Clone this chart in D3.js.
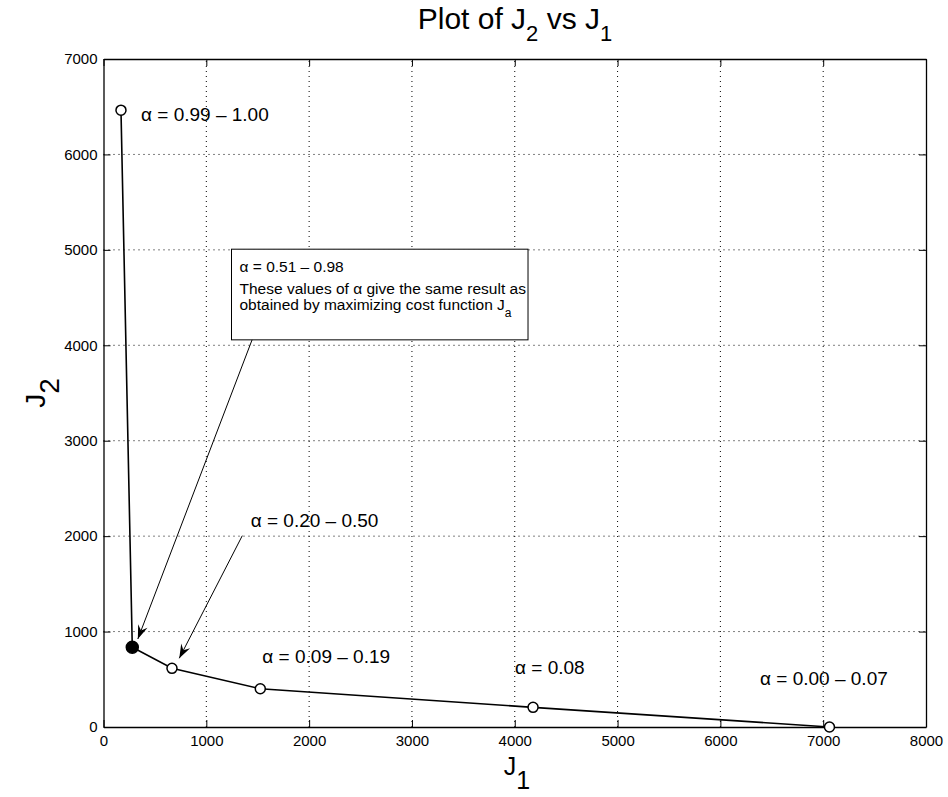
<!DOCTYPE html>
<meta charset="utf-8">
<body>
	<svg id="chart"></svg>
</body>
<script src="https://d3js.org/d3.v7.min.js"></script>
<script>

	// points of the trade-off curve, J1 along x and J2 along y
	var j1Values = [170, 280, 666, 1525, 4178, 7061];
	var j2Values = [6464, 835, 615, 401, 206, 0];
	// the one solid marker is the point chosen by maximizing J_a
	var filledMarker = [false, true, false, false, false, false];

	var xTicks = [0, 1000, 2000, 3000, 4000, 5000, 6000, 7000, 8000];
	var yTicks = [0, 1000, 2000, 3000, 4000, 5000, 6000, 7000];

	// alpha range labels, anchored in data units (left end of the baseline)
	var labelText = ["\u03b1 = 0.99 \u2013 1.00", "\u03b1 = 0.20 \u2013 0.50", "\u03b1 = 0.09 \u2013 0.19", "\u03b1 = 0.08", "\u03b1 = 0.00 \u2013 0.07"];
	var labelJ1 = [365, 1432, 1545, 4003, 6386];
	var labelJ2 = [6352, 2100, 674, 556, 440];

	// the text box and its arrows
	var boxLines = ["\u03b1 = 0.51 \u2013 0.98", "These values of \u03b1 give the same result as", "obtained by maximizing cost function J"];
	var boxCorners = [[1245, 5007], [4129, 4057]];
	var arrowTails = [[1445, 4057], [1350, 2005]];
	var arrowTips = [[334, 922], [737, 720]];

	var width = 948,
		height = 797;

	var svg = d3.select("#chart")
		.attr("width", width)
		.attr("height", height);

	var x = d3.scaleLinear().domain([0, 8000]).range([103.5, 926]);
	var y = d3.scaleLinear().domain([0, 7000]).range([727, 59]);

	// dotted grid
	var grid = svg.append("g").attr("class", "grid");
	grid.selectAll("line.gx")
		.data(xTicks.slice(1, -1))
		.enter().append("line")
		.attr("class", "gx")
		.attr("x1", (d) => x(d)).attr("x2", (d) => x(d))
		.attr("y1", y(0)).attr("y2", y(7000));
	grid.selectAll("line.gy")
		.data(yTicks.slice(1, -1))
		.enter().append("line")
		.attr("class", "gy")
		.attr("y1", (d) => y(d)).attr("y2", (d) => y(d))
		.attr("x1", x(0)).attr("x2", x(8000));

	// axes: ticks pointing inward, box on all four sides
	svg.append("g")
		.attr("class", "axis")
		.attr("transform", "translate(0," + y(0) + ")")
		.call(d3.axisBottom(x).tickValues(xTicks).tickSizeInner(-7).tickSizeOuter(0).tickPadding(8).tickFormat(d3.format("d")));
	svg.append("g")
		.attr("class", "axis")
		.attr("transform", "translate(0," + y(7000) + ")")
		.call(d3.axisTop(x).tickValues(xTicks).tickSizeInner(-7).tickSizeOuter(0).tickFormat(""));
	svg.append("g")
		.attr("class", "axis")
		.attr("transform", "translate(" + x(0) + ",0)")
		.call(d3.axisLeft(y).tickValues(yTicks).tickSizeInner(-7).tickSizeOuter(0).tickPadding(6).tickFormat(d3.format("d")));
	svg.append("g")
		.attr("class", "axis")
		.attr("transform", "translate(" + x(8000) + ",0)")
		.call(d3.axisRight(y).tickValues(yTicks).tickSizeInner(-7).tickSizeOuter(0).tickFormat(""));

	// curve
	var points = j1Values.map((d, i) => ({j1: d, j2: j2Values[i], filled: filledMarker[i]}));
	svg.append("path")
		.datum(points)
		.attr("class", "curve")
		.attr("d", d3.line().x((d) => x(d.j1)).y((d) => y(d.j2)));

	svg.selectAll("circle.marker")
		.data(points)
		.enter().append("circle")
		.attr("class", "marker")
		.attr("cx", (d) => x(d.j1))
		.attr("cy", (d) => y(d.j2))
		.attr("r", (d) => d.filled ? 6 : 5)
		.attr("fill", (d) => d.filled ? "#000" : "#fff");

	// alpha labels
	svg.selectAll("text.alpha")
		.data(labelText)
		.enter().append("text")
		.attr("class", "alpha")
		.attr("x", (d, i) => x(labelJ1[i]))
		.attr("y", (d, i) => y(labelJ2[i]))
		.text((d) => d);

	// text box
	var bx0 = x(boxCorners[0][0]), by0 = y(boxCorners[0][1]),
		bx1 = x(boxCorners[1][0]), by1 = y(boxCorners[1][1]);
	svg.append("rect")
		.attr("class", "box")
		.attr("x", bx0).attr("y", by0)
		.attr("width", bx1 - bx0).attr("height", by1 - by0);
	var boxBaselines = [23, 45, 61];
	var boxText = svg.selectAll("text.boxline")
		.data(boxLines)
		.enter().append("text")
		.attr("class", "boxline")
		.attr("x", bx0 + 8)
		.attr("y", (d, i) => by0 + boxBaselines[i])
		.text((d) => d);
	// subscript a on the last line
	boxText.filter((d, i) => i == 2)
		.append("tspan")
		.attr("dy", 7)
		.style("font-size", "12px")
		.text("a");

	// arrows, concave back heads like the matlab annotation
	function arrowHead(tip, tail) {
		var ang = Math.atan2(tip[1] - tail[1], tip[0] - tail[0]);
		var len = 14, half = 5, back = 9;
		var pts = [[0, 0], [-len, -half], [-back, 0], [-len, half]];
		return "M" + pts.map(function(p) {
			return [tip[0] + p[0] * Math.cos(ang) - p[1] * Math.sin(ang),
				tip[1] + p[0] * Math.sin(ang) + p[1] * Math.cos(ang)].join(",");
		}).join("L") + "Z";
	}
	arrowTails.forEach(function(t, i) {
		var tail = [x(t[0]), y(t[1])],
			tip = [x(arrowTips[i][0]), y(arrowTips[i][1])];
		svg.append("line")
			.attr("class", "arrow")
			.attr("x1", tail[0]).attr("y1", tail[1])
			.attr("x2", tip[0]).attr("y2", tip[1]);
		svg.append("path")
			.attr("class", "arrowhead")
			.attr("d", arrowHead(tip, tail));
	});

	// title and axis labels
	var title = svg.append("text")
		.attr("class", "title")
		.attr("x", 515)
		.attr("y", 29)
		.attr("text-anchor", "middle");
	title.append("tspan").text("Plot of J");
	title.append("tspan").attr("dy", 12).style("font-size", "22px").text("2");
	title.append("tspan").attr("dy", -12).text(" vs J");
	title.append("tspan").attr("dy", 12).style("font-size", "22px").text("1");

	var xLabel = svg.append("text")
		.attr("class", "label")
		.attr("x", 517)
		.attr("y", 775)
		.style("font-size", "25px")
		.attr("text-anchor", "middle");
	xLabel.append("tspan").text("J");
	xLabel.append("tspan").attr("dy", 14).text("1");

	var yLabel = svg.append("text")
		.attr("class", "label")
		.attr("transform", "translate(45,393) rotate(-90)")
		.attr("text-anchor", "middle");
	yLabel.append("tspan").text("J");
	yLabel.append("tspan").attr("dy", 14).text("2");

</script>
<style>
	body {
		margin: 0;
		background: #fff;
	}

	svg {
		display: block;
		font-family: "Liberation Sans", Arial, Helvetica, sans-serif;
	}

	.grid line {
		stroke: #000;
		stroke-width: 1px;
		stroke-dasharray: 1, 4;
	}

	.axis path {
		stroke: #000;
		stroke-width: 1.3px;
	}

	.axis line {
		stroke: #000;
		stroke-width: 1px;
	}

	.axis text {
		font-size: 15px;
		fill: #000;
		font-family: "Liberation Sans", Arial, sans-serif;
	}

	.curve {
		fill: none;
		stroke: #000;
		stroke-width: 1.6px;
	}

	.marker {
		stroke: #000;
		stroke-width: 1.5px;
	}

	.alpha {
		font-size: 19px;
		fill: #000;
	}

	.box {
		fill: #fff;
		stroke: #000;
		stroke-width: 1px;
	}

	.boxline {
		font-size: 15.5px;
		fill: #000;
	}

	.arrow {
		stroke: #000;
		stroke-width: 1px;
	}

	.arrowhead {
		fill: #000;
	}

	.title {
		font-size: 30px;
		fill: #000;
	}

	.label {
		font-size: 28px;
		fill: #000;
	}
</style>
